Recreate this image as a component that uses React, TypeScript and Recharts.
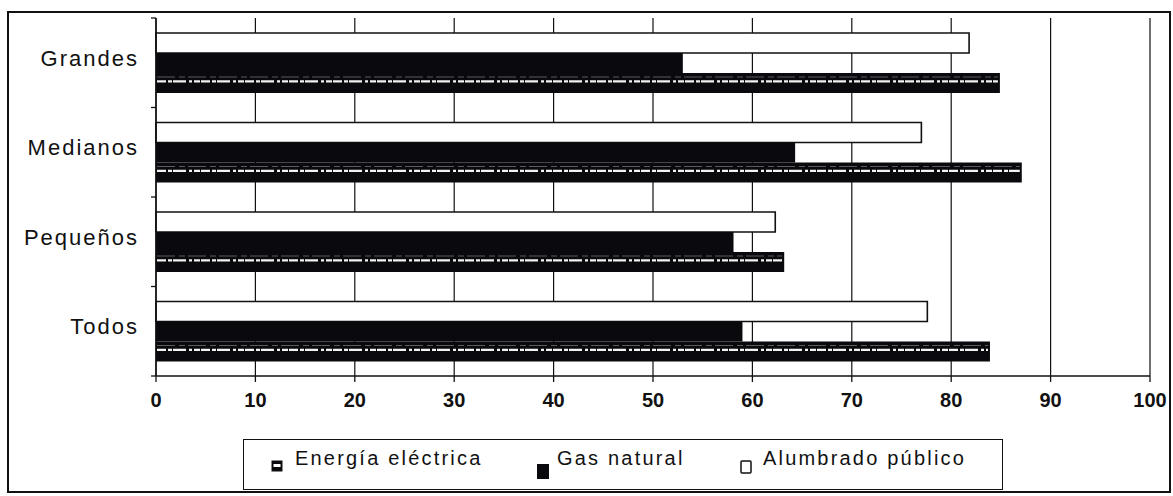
import React from 'react';
import { BarChart, Bar, XAxis, YAxis, CartesianGrid, Legend } from 'recharts';

const categories = ['Grandes', 'Medianos', 'Pequeños', 'Todos'];
const energiaElectrica = [84.9, 87.1, 63.2, 83.9];
const gasNatural = [53.0, 64.3, 58.1, 59.0];
const alumbradoPublico = [81.8, 77.0, 62.3, 77.6];
const xTicks = [0, 10, 20, 30, 40, 50, 60, 70, 80, 90, 100];
const seriesNames = {
  energia: 'Energía eléctrica',
  gas: 'Gas natural',
  alumbrado: 'Alumbrado público',
};
const legendOrder = ['energia', 'gas', 'alumbrado'];

const data = categories.map((c, i) => ({
  categoria: c,
  energia: energiaElectrica[i],
  gas: gasNatural[i],
  alumbrado: alumbradoPublico[i],
}));

const W = 1173;
const H = 496;
const M_TOP = 18;
const M_RIGHT = 23;
const M_BOTTOM = 80;
const X_AXIS_H = 40;
const Y_AXIS_W = 156;
const PLOT_H = H - M_TOP - M_BOTTOM - X_AXIS_H;
const BAND = PLOT_H / categories.length;
const FONT = '"Liberation Sans", Arial, Helvetica, sans-serif';
const INK = '#111';

const EnergyShape = (props: any) => {
  const { x, y, width, height } = props;
  if (!width || width <= 0) return null;
  return (
    <g>
      <rect x={x} y={y} width={width} height={height} fill="#0a0a0e" />
      <line x1={x + 1} x2={x + width - 2} y1={y + height * 0.2} y2={y + height * 0.2}
        stroke="#cfcfcf" strokeWidth={0.7} strokeDasharray="18 4 6 3" opacity={0.6} />
      <line x1={x + 1} x2={x + width - 2} y1={y + height * 0.42} y2={y + height * 0.42}
        stroke="#f2f2f2" strokeWidth={2.4} strokeDasharray="9 2 4 1 13 3 3 2 6 1" />
    </g>
  );
};

const YTick = (props: any) => {
  const { x, y, payload, index } = props;
  const tickSize = 5;
  const tickMargin = 13;
  const axisX = x + tickSize + tickMargin;
  const top = y - BAND / 2;
  const bottom = y + BAND / 2;
  return (
    <g>
      <line x1={axisX - tickSize} x2={axisX} y1={top} y2={top} stroke={INK} strokeWidth={1.3} />
      {index === categories.length - 1 && (
        <line x1={axisX - tickSize} x2={axisX} y1={bottom} y2={bottom} stroke={INK} strokeWidth={1.3} />
      )}
      <text x={x + 1} y={y - 5} dy="0.36em" textAnchor="end" fontFamily={FONT} fontSize={22}
        letterSpacing={2} fill={INK}>
        {payload.value}
      </text>
    </g>
  );
};

const LegendIcon = ({ k }: { k: string }) => {
  if (k === 'energia') {
    return (
      <g>
        <rect x={0} y={-6} width={10} height={10} fill="#0a0a0e" stroke={INK} strokeWidth={1} />
        <rect x={1.5} y={-3} width={7} height={3} fill="#fff" />
      </g>
    );
  }
  if (k === 'gas') {
    return <rect x={0} y={-3} width={12} height={15} fill="#0a0a0e" />;
  }
  return <rect x={0} y={-6} width={10} height={12} fill="#fff" stroke={INK} strokeWidth={1.5} rx={1} />;
};

const legendIconX: Record<string, number> = { energia: 28, gas: 293, alumbrado: 497 };
const legendTextX: Record<string, number> = { energia: 51, gas: 313, alumbrado: 519 };

const renderLegend = (props: any) => {
  const payload = props.payload || [];
  const byKey: Record<string, any> = {};
  payload.forEach((p: any) => { byKey[p.dataKey] = p; });
  return (
    <div style={{ width: 760, height: 51, border: `1.5px solid ${INK}`, boxSizing: 'border-box', background: '#fff' }}>
      <svg width={757} height={48} style={{ display: 'block' }}>
        {legendOrder.map((k) => (
          <g key={k}>
            <g transform={`translate(${legendIconX[k]}, 27)`}>
              <LegendIcon k={k} />
            </g>
            <text x={legendTextX[k]} y={25} fontFamily={FONT} fontSize={20} letterSpacing={2.2} fill={INK}>
              {byKey[k] ? byKey[k].value : (seriesNames as any)[k]}
            </text>
          </g>
        ))}
      </svg>
    </div>
  );
};

export default function App() {
  return (
    <div style={{ position: 'relative', width: W, height: H, background: '#fff', overflow: 'hidden' }}>
      <style>{`body{margin:0;background:#fff;}`}</style>
      <div style={{ position: 'absolute', left: 7, top: 11, width: 1164, height: 482, border: `2px solid ${INK}`, boxSizing: 'border-box' }} />
      <div style={{ position: 'absolute', left: 0, top: 0 }}>
        <BarChart
          width={W}
          height={H}
          data={data}
          layout="vertical"
          margin={{ top: M_TOP, right: M_RIGHT, bottom: M_BOTTOM, left: 0 }}
          barGap={0}
          barSize={20}
        >
          <CartesianGrid horizontal={false} vertical stroke={INK} strokeWidth={1.2} />
          <XAxis
            type="number"
            domain={[0, 100]}
            ticks={xTicks}
            interval={0}
            height={X_AXIS_H}
            axisLine={{ stroke: INK, strokeWidth: 1.5 }}
            tickLine={{ stroke: INK, strokeWidth: 1.3 }}
            tickSize={6}
            tickMargin={11}
            tick={{ fill: INK, fontFamily: FONT, fontSize: 20, fontWeight: 700 }}
          />
          <XAxis
            xAxisId="top"
            orientation="top"
            type="number"
            domain={[0, 100]}
            height={0}
            tick={false}
            tickLine={false}
            axisLine={{ stroke: INK, strokeWidth: 1.5 }}
          />
          <YAxis
            type="category"
            dataKey="categoria"
            width={Y_AXIS_W}
            tickLine={false}
            tickSize={5}
            tickMargin={13}
            axisLine={{ stroke: INK, strokeWidth: 1.5 }}
            tick={<YTick />}
          />
          <Legend
            verticalAlign="middle"
            align="center"
            layout="horizontal"
            content={renderLegend}
            wrapperStyle={{ left: 243, top: 439, width: 760, height: 51 }}
          />
          <Bar dataKey="alumbrado" name={seriesNames.alumbrado} fill="#fff" stroke={INK} strokeWidth={1.6} isAnimationActive={false} />
          <Bar dataKey="gas" name={seriesNames.gas} fill="#0a0a0e" isAnimationActive={false} />
          <Bar dataKey="energia" name={seriesNames.energia} fill="#0a0a0e" shape={<EnergyShape />} isAnimationActive={false} />
        </BarChart>
      </div>
    </div>
  );
}
